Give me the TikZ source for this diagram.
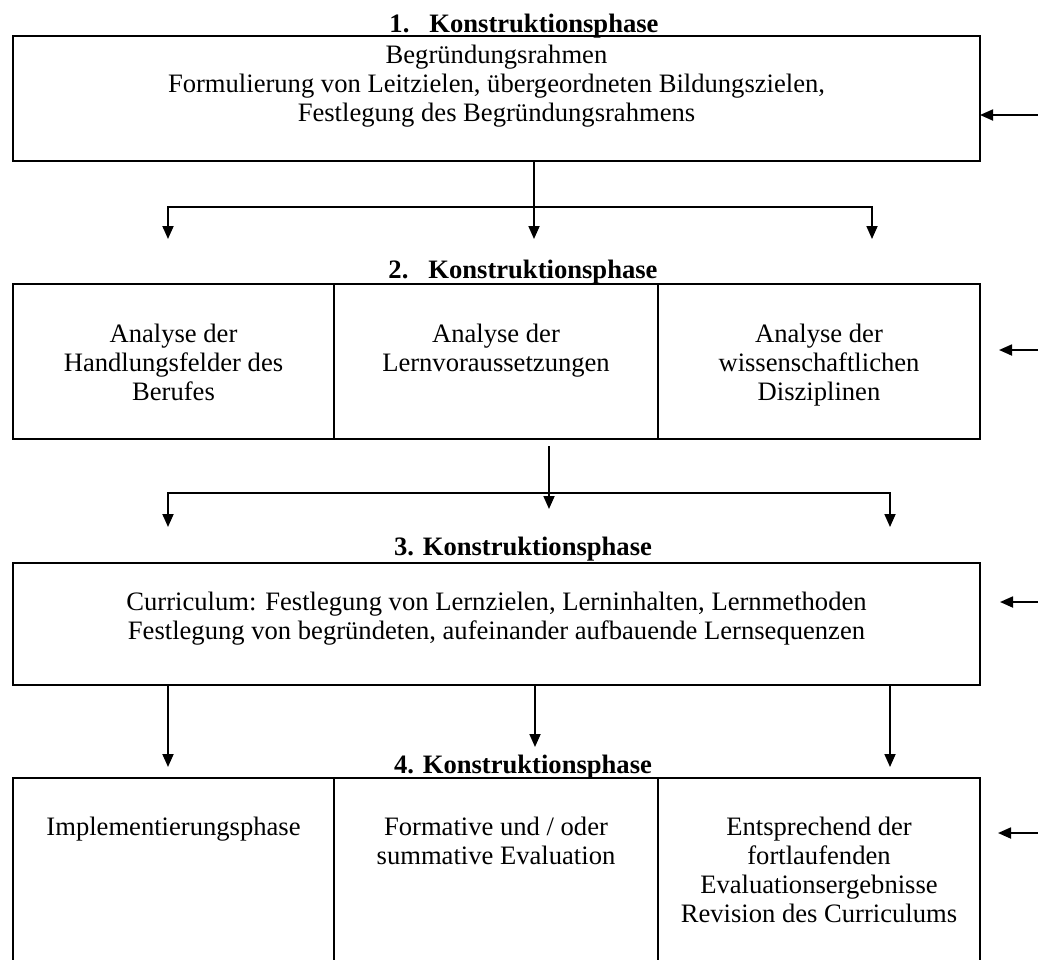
\documentclass[tikz,border=0pt]{standalone}
\usepackage{fontspec}
\setmainfont{Liberation Serif}
\usetikzlibrary{arrows.meta,positioning}

\begin{document}
\begin{tikzpicture}[x=0.5pt,y=-0.5pt,
		every node/.style={font=\fontsize{13.3}{14.4}\selectfont},
		box/.style={draw,line width=1pt,inner sep=0pt,outer sep=0pt,minimum width=483.5pt},
		cell/.style={draw,line width=1pt,inner sep=0pt,outer sep=0pt},
		txt/.style={align=center,anchor=north,inner sep=0pt},
		title/.style={font=\fontsize{13.3}{14.4}\selectfont\bfseries,anchor=base,inner sep=0pt},
		arr/.style={-{Triangle[length=6.5pt,width=5.5pt]},line width=0.9pt}]
	\useasboundingbox (0,0) rectangle (1038,959);

	% phase 1
	\node[title] (title_1) at (524,32) {1.\hspace{0.75em}Konstruktionsphase};
	\node[box,minimum height=62.5pt] (box_1) at (496.5,98.5) {};
	\node[txt] (text_1) [below=4.5pt of box_1.north] {Begründungsrahmen\\Formulierung von Leitzielen, übergeordneten Bildungszielen,\\Festlegung des Begründungsrahmens};

	% phase 2
	\node[title] (title_2) at (523,278) {2.\hspace{0.75em}Konstruktionsphase};
	\node[cell,minimum width=160.5pt,minimum height=77.5pt] (cell_21) at (173.5,361.5) {};
	\node[cell,minimum width=162pt,minimum height=77.5pt] (cell_22) [right=0pt of cell_21] {};
	\node[cell,minimum width=161pt,minimum height=77.5pt] (cell_23) [right=0pt of cell_22] {};
	\node[txt] (text_21) [below=20pt of cell_21.north] {Analyse der\\Handlungsfelder des\\Berufes};
	\node[txt] (text_22) [below=20pt of cell_22.north] {Analyse der\\Lernvoraussetzungen};
	\node[txt] (text_23) [below=20pt of cell_23.north] {Analyse der\\wissenschaftlichen\\Disziplinen};

	% phase 3
	\node[title] (title_3) at (523,555) {3. Konstruktionsphase};
	\node[box,minimum height=61pt] (box_3) at (496.5,624) {};
	\node[txt] (text_3) [below=14.5pt of box_3.north] {Curriculum: Festlegung von Lernzielen, Lerninhalten, Lernmethoden\\Festlegung von begründeten, aufeinander aufbauende Lernsequenzen};

	% phase 4
	\node[title] (title_4) at (523,773) {4. Konstruktionsphase};
	\node[cell,minimum width=160.5pt,minimum height=100pt] (cell_41) at (173.5,878) {};
	\node[cell,minimum width=162pt,minimum height=100pt] (cell_42) [right=0pt of cell_41] {};
	\node[cell,minimum width=161pt,minimum height=100pt] (cell_43) [right=0pt of cell_42] {};
	\node[txt] (text_41) [below=19.5pt of cell_41.north] {Implementierungsphase};
	\node[txt] (text_42) [below=19.5pt of cell_42.north] {Formative und / oder\\summative Evaluation};
	\node[txt] (text_43) [below=19.5pt of cell_43.north] {Entsprechend der\\fortlaufenden\\Evaluationsergebnisse\\Revision des Curriculums};

	% connectors 1 -> 2
	\coordinate (fork_1) at (534,207);
	\coordinate (tip_1l) at (168,239);
	\coordinate (tip_1m) at (534,239);
	\coordinate (tip_1r) at (872,239);
	\draw[arr] (box_1.south -| tip_1m) -- (tip_1m);
	\draw[arr] (fork_1) -| (tip_1l);
	\draw[arr] (fork_1) -| (tip_1r);

	% connectors 2 -> 3
	\coordinate (start_2) at (549,446);
	\coordinate (fork_2) at (549,493);
	\coordinate (tip_2l) at (168,527);
	\coordinate (tip_2m) at (549,509);
	\coordinate (tip_2r) at (890,527);
	\draw[arr] (start_2) -- (tip_2m);
	\draw[arr] (fork_2) -| (tip_2l);
	\draw[arr] (fork_2) -| (tip_2r);

	% connectors 3 -> 4
	\coordinate (tip_3l) at (168,767);
	\coordinate (tip_3m) at (535,747);
	\coordinate (tip_3r) at (890,767);
	\draw[arr] (box_3.south -| tip_3l) -- (tip_3l);
	\draw[arr] (box_3.south -| tip_3m) -- (tip_3m);
	\draw[arr] (box_3.south -| tip_3r) -- (tip_3r);

	% feedback from the right
	\coordinate (in_1) at (1038,115);
	\coordinate (in_2) at (1038,350);
	\coordinate (in_3) at (1038,602);
	\coordinate (in_4) at (1038,833);
	\draw[arr] (in_1) -- (in_1 -| box_1.east);
	\draw[arr,shorten >=9.5pt] (in_2) -- (in_2 -| cell_23.east);
	\draw[arr,shorten >=10pt] (in_3) -- (in_3 -| box_3.east);
	\draw[arr,shorten >=9pt] (in_4) -- (in_4 -| cell_43.east);
\end{tikzpicture}
\end{document}
